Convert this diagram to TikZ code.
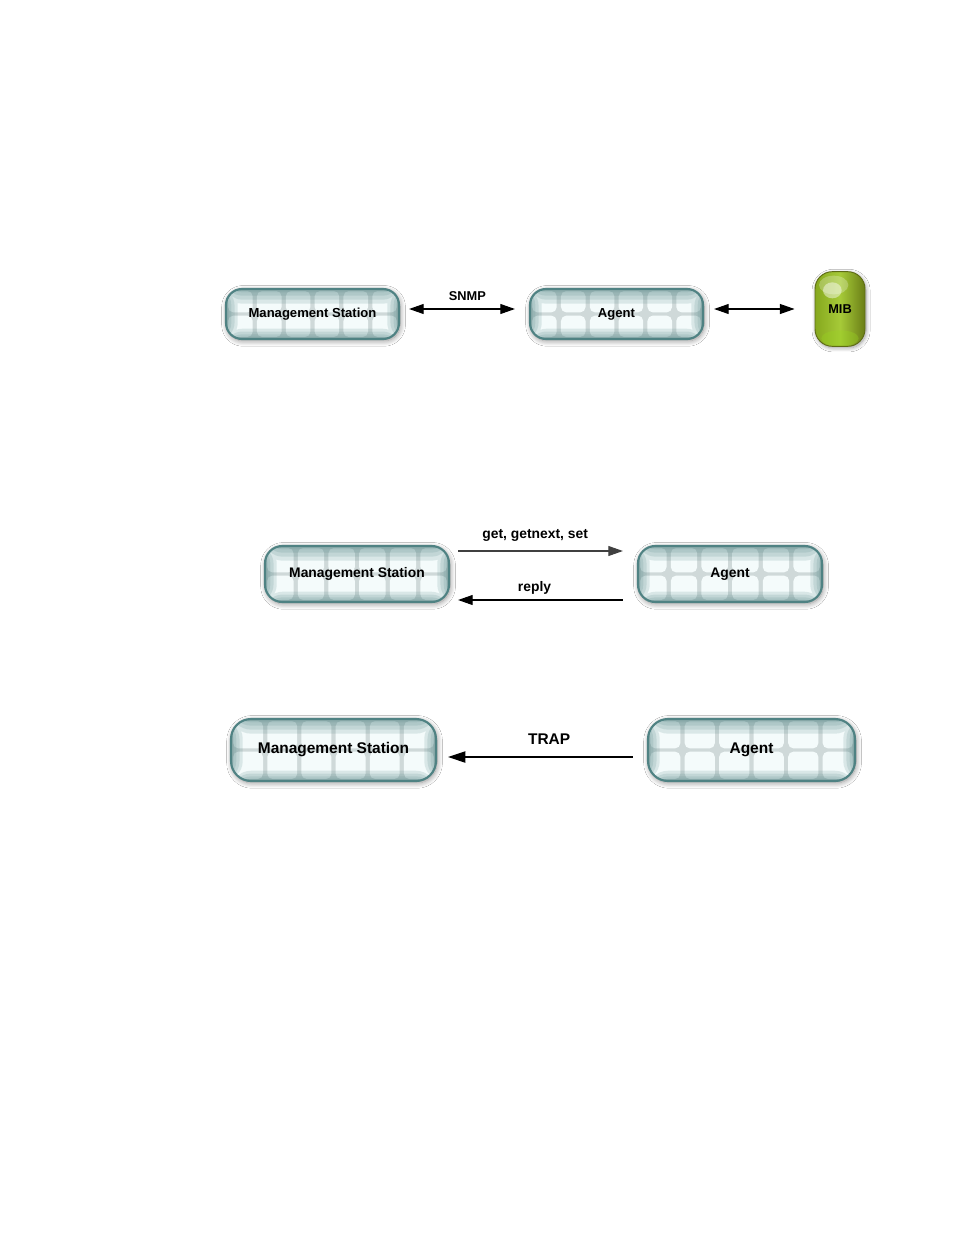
\documentclass[tikz,border=0pt]{standalone}
\usepackage{fontspec}
\setmainfont{Liberation Sans}
\usetikzlibrary{arrows.meta,shadows.blur,calc}
\definecolor{edge}{HTML}{4F8283}
\definecolor{sep}{HTML}{CFD9D9}
\definecolor{cell}{HTML}{F4FBFB}
\definecolor{mibL}{HTML}{86A81E}
\definecolor{mibM}{HTML}{A6CA38}
\definecolor{mibR}{HTML}{6A7E16}
\definecolor{mibE}{HTML}{5E6C16}
\tikzset{
  glassbox/.style={rectangle, rounded corners=#1, draw=edge, line width=1.6pt,
    fill=sep, inner sep=0pt, font=\bfseries,
    blur shadow={shadow blur steps=10, shadow xshift=0.8pt, shadow yshift=-1.4pt,
      shadow opacity=45, shadow blur radius=4pt},
    path picture={
      \foreach \i in {0,...,5}{
        \fill[cell, rounded corners=4pt]
          let \p1=(path picture bounding box.south west),
              \p2=(path picture bounding box.north east),
              \n1={(\x2-\x1)/6}, \n2={(\y2-\y1)/2} in
          ({\x1+\i*\n1+1.6pt},{\y1+1.5pt}) rectangle ({\x1+(\i+1)*\n1-1.6pt},{\y1+\n2-1.2pt})
          ({\x1+\i*\n1+1.6pt},{\y1+\n2+1.2pt}) rectangle ({\x1+(\i+1)*\n1-1.6pt},{\y2-1.5pt});
      }
      \foreach \d in {2.5pt,5pt,8pt,11pt}{
        \fill[edge, opacity=0.16]
          let \p1=(path picture bounding box.south west),
              \p2=(path picture bounding box.north east) in
          (\x1,{\y2-\d}) rectangle (\x2,\y2)
          (\x1,\y1) rectangle (\x2,{\y1+0.7*\d})
          (\x1,\y1) rectangle ({\x1+0.8*\d},\y2)
          ({\x2-0.8*\d},\y1) rectangle (\x2,\y2);
      }
    }},
  mibbox/.style={rectangle, rounded corners=13pt, draw=mibE, line width=0.7pt,
    left color=mibL, right color=mibR, middle color=mibM, inner sep=0pt,
    font=\bfseries\fontsize{9.6}{11}\selectfont,
    minimum width=37.5pt, minimum height=56pt,
    blur shadow={shadow blur steps=8, shadow xshift=0.8pt, shadow yshift=-1.2pt,
      shadow opacity=40, shadow blur radius=3pt},
    path picture={
      \fill[white, opacity=0.45] ($(path picture bounding box.north west)+(13pt,-14pt)$) ellipse (7pt and 6pt);
      \fill[white, opacity=0.25] ($(path picture bounding box.north west)+(14pt,-10pt)$) ellipse (11pt and 7pt);
      \fill[yellow!60!green, opacity=0.35] ($(path picture bounding box.south)+(0,6pt)$) ellipse (14pt and 6pt);
    }},
  arr/.style={line width=0.8pt, -{Triangle[length=11pt,width=7.5pt]}},
  darr/.style={line width=0.8pt, {Triangle[length=11pt,width=7.5pt]}-{Triangle[length=11pt,width=7.5pt]}},
  lbl/.style={font=\bfseries, inner sep=0pt},
}
\begin{document}
\begin{tikzpicture}[x=0.75pt,y=-0.75pt]
\useasboundingbox[fill=white] (0,0) rectangle (954,1235);

% Row 1
\node[glassbox=12pt, minimum width=173*0.75pt, minimum height=50*0.75pt,
  font=\bfseries\fontsize{9.8}{12}\selectfont] (ms1) at (312.5,314) {Management Station};
\node[glassbox=12pt, minimum width=173*0.75pt, minimum height=50*0.75pt,
  font=\bfseries\fontsize{9.8}{12}\selectfont] (ag1) at (616.5,314) {Agent};
\node[mibbox] (mib) at (840,309) {MIB};
\draw[darr] ([shift={(9,-5)}]ms1.east) -- ([shift={(-14,-5)}]ag1.west)
  node[lbl, midway, above=6pt, xshift=4pt, font=\bfseries\fontsize{9.6}{11}\selectfont] (snmp) {SNMP};
\draw[darr] ([shift={(10,-5)}]ag1.east) -- ([shift={(-20,0)}]mib.west);

% Row 2
\node[glassbox=13pt, minimum width=184*0.75pt, minimum height=56*0.75pt,
  font=\bfseries\fontsize{10.4}{12}\selectfont] (ms2) at (357,574) {Management Station};
\node[glassbox=13pt, minimum width=184*0.75pt, minimum height=56*0.75pt,
  font=\bfseries\fontsize{10.4}{12}\selectfont] (ag2) at (730,574) {Agent};
\draw[arr, draw=black!75] ([shift={(8,-23)}]ms2.east) -- ([shift={(-14,-23)}]ag2.west)
  node[lbl, midway, above=6.5pt, xshift=-4pt, font=\bfseries\fontsize{10.4}{12}\selectfont] (get) {get, getnext, set};
\draw[arr] ([shift={(-14,26)}]ag2.west) -- ([shift={(8,26)}]ms2.east)
  node[lbl, midway, above=3.5pt, xshift=-4.5pt, font=\bfseries\fontsize{10.4}{12}\selectfont] (reply) {reply};

% Row 3
\node[glassbox=15pt, minimum width=205*0.75pt, minimum height=62*0.75pt,
  font=\bfseries\fontsize{11.6}{14}\selectfont] (ms3) at (333.5,750) {Management Station};
\node[glassbox=15pt, minimum width=207*0.75pt, minimum height=62*0.75pt,
  font=\bfseries\fontsize{11.6}{14}\selectfont] (ag3) at (751.5,750) {Agent};
\draw[line width=0.8pt, -{Triangle[length=13pt,width=8.5pt]}] ([shift={(-14,7)}]ag3.west) -- ([shift={(11,7)}]ms3.east)
  node[lbl, midway, above=9pt, xshift=6.5pt, font=\bfseries\fontsize{11.6}{14}\selectfont] (trap) {TRAP};
\end{tikzpicture}
\end{document}
